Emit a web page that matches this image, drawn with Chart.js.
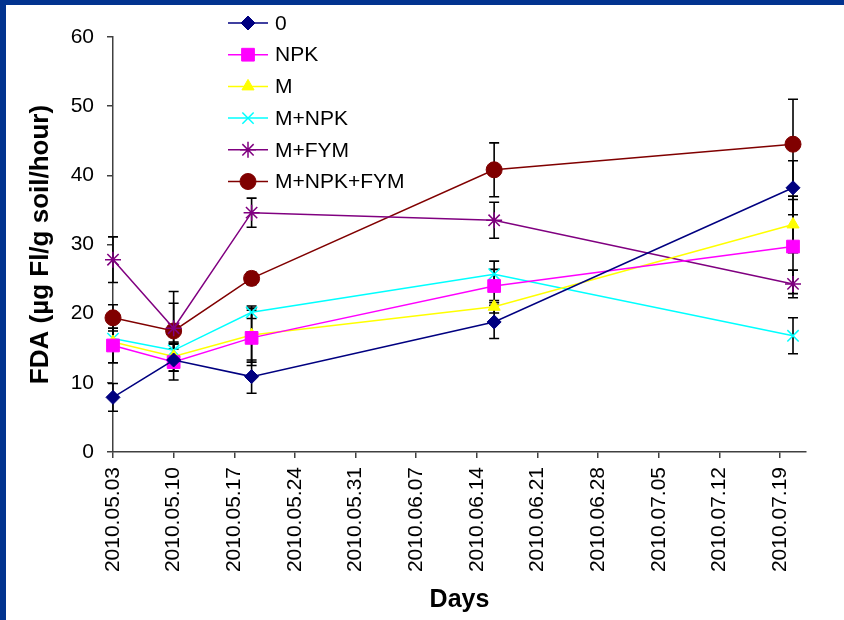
<!DOCTYPE html>
<html>
<head>
<meta charset="utf-8">
<script src="https://cdn.jsdelivr.net/npm/chart.js@4.4.1/dist/chart.umd.min.js"></script>
<style>
  body { margin: 0; background: #fff; }
  #wrap { width: 844px; height: 620px; }
</style>
</head>
<body>
<div id="wrap"><canvas id="myChart" width="844" height="620"></canvas></div>
<script>
// sampling days, counted from 2010.05.03
const days = [0, 7, 16, 44, 78.5];

const seriesNames = ['0', 'NPK', 'M', 'M+NPK', 'M+FYM', 'M+NPK+FYM'];
const control = [7.9, 13.3, 10.9, 18.8, 38.2];
const npk = [15.4, 13.0, 16.5, 24.0, 29.7];
const manure = [15.9, 13.8, 16.9, 21.0, 32.9];
const manureNpk = [16.4, 14.7, 20.2, 25.7, 16.8];
const manureFym = [27.8, 17.9, 34.6, 33.5, 24.3];
const manureNpkFym = [19.4, 17.5, 25.1, 40.8, 44.5];

// error bar half-lengths
const controlErr = [2.0, 1.6, 2.4, 2.4, 3.9];
const npkErr = [2.5, 2.6, 4.0, 2.4, 6.8];
const manureErr = [3.0, 2.1, 3.9, 0.9, 4.1];
const manureNpkErr = [1.5, 1.0, 0.9, 1.9, 2.6];
const manureFymErr = [3.3, 5.3, 2.1, 2.6, 2.0];
const manureNpkFymErr = [1.9, 4.0, 0.9, 3.9, 6.5];

const yTicks = [0, 10, 20, 30, 40, 50, 60];

const FONT = "'Liberation Sans', Arial, sans-serif";

const colors = ['#000080', '#FF00FF', '#FFFF00', '#00FFFF', '#800080', '#800000'];
const styles = ['rectRot', 'rect', 'triangle', 'crossRot', 'star', 'circle'];
const radii = [7, 9, 7, 8, 8, 8];
const values = [control, npk, manure, manureNpk, manureFym, manureNpkFym];
const errors = [controlErr, npkErr, manureErr, manureNpkErr, manureFymErr, manureNpkFymErr];

function dayLabel(v) {
  const d = new Date(Date.UTC(2010, 4, 3) + v * 86400000);
  const mm = String(d.getUTCMonth() + 1).padStart(2, '0');
  const dd = String(d.getUTCDate()).padStart(2, '0');
  return d.getUTCFullYear() + '.' + mm + '.' + dd;
}

const datasets = seriesNames.map((name, i) => ({
  label: name,
  data: values[i].map((v, j) => ({ x: days[j], y: v })),
  errors: errors[i],
  borderColor: colors[i],
  backgroundColor: colors[i],
  borderWidth: 1.5,
  pointStyle: styles[i],
  pointRadius: radii[i],
  pointBorderWidth: (styles[i] === 'crossRot' || styles[i] === 'star') ? 1.5 : 1,
  pointBorderColor: colors[i],
  pointBackgroundColor: colors[i],
  tension: 0,
  fill: false,
  clip: false
}));

const framePlugin = {
  id: 'frame',
  beforeDraw(chart) {
    const ctx = chart.ctx;
    ctx.save();
    ctx.fillStyle = '#ffffff';
    ctx.fillRect(0, 0, chart.width, chart.height);
    ctx.fillStyle = '#02338F';
    ctx.fillRect(0, 0, chart.width, 5);
    ctx.fillRect(0, 0, 6, chart.height);
    ctx.restore();
  }
};

const errorBarPlugin = {
  id: 'errorBars',
  beforeDatasetsDraw(chart) {
    const ctx = chart.ctx;
    const xs = chart.scales.x;
    const ys = chart.scales.y;
    ctx.save();
    ctx.strokeStyle = '#000000';
    ctx.lineWidth = 1.6;
    chart.data.datasets.forEach(ds => {
      ds.data.forEach((p, j) => {
        const e = ds.errors[j];
        const px = xs.getPixelForValue(p.x);
        const top = ys.getPixelForValue(p.y + e);
        const bot = ys.getPixelForValue(p.y - e);
        ctx.beginPath();
        ctx.moveTo(px, top);
        ctx.lineTo(px, bot);
        ctx.moveTo(px - 5, top);
        ctx.lineTo(px + 5, top);
        ctx.moveTo(px - 5, bot);
        ctx.lineTo(px + 5, bot);
        ctx.stroke();
      });
    });
    ctx.restore();
  }
};

const legendPlugin = {
  id: 'customLegend',
  afterDraw(chart) {
    const ctx = chart.ctx;
    const x0 = 228, x1 = 268, tx = 275;
    ctx.save();
    ctx.font = '21px ' + FONT;
    ctx.textBaseline = 'middle';
    ctx.textAlign = 'left';
    chart.data.datasets.forEach((ds, i) => {
      const y = 23 + i * 31.7;
      ctx.strokeStyle = ds.borderColor;
      ctx.lineWidth = ds.borderWidth;
      ctx.beginPath();
      ctx.moveTo(x0, y);
      ctx.lineTo(x1, y);
      ctx.stroke();
      ctx.fillStyle = ds.pointBackgroundColor;
      ctx.strokeStyle = ds.pointBorderColor;
      ctx.lineWidth = ds.pointBorderWidth;
      Chart.helpers.drawPoint(ctx, {
        pointStyle: ds.pointStyle,
        radius: ds.pointRadius,
        rotation: 0,
        borderWidth: ds.pointBorderWidth
      }, (x0 + x1) / 2, y);
      ctx.fillStyle = '#000000';
      ctx.fillText(ds.label, tx, y + 1);
    });
    ctx.restore();
  }
};

const myChart = new Chart(document.getElementById('myChart'), {
  type: 'line',
  data: { datasets: datasets },
  options: {
    responsive: false,
    animation: false,
    layout: { padding: { top: 37, right: 38, left: 0, bottom: 0 } },
    plugins: {
      legend: { display: false },
      tooltip: { enabled: false }
    },
    scales: {
      x: {
        type: 'linear',
        min: 0,
        max: 80,
        afterFit(scale) { scale.height = 168; },
        afterBuildTicks(scale) {
          const t = [];
          for (let v = 0; v <= 77; v += 7) t.push({ value: v });
          scale.ticks = t;
        },
        ticks: {
          stepSize: 7,
          minRotation: 90,
          maxRotation: 90,
          autoSkip: false,
          padding: 9,
          color: '#000000',
          font: { family: FONT, size: 21 },
          callback: v => dayLabel(v)
        },
        grid: { display: true, drawOnChartArea: false, drawTicks: true, tickLength: 6, color: '#404040', lineWidth: 1.5 },
        border: { display: true, color: '#404040', width: 1.5 },
        title: {
          display: true,
          text: 'Days',
          color: '#000000',
          font: { family: FONT, size: 25, weight: 'bold' },
          padding: { top: 0, bottom: 5 }
        }
      },
      y: {
        min: 0,
        max: 60,
        afterFit(scale) { scale.width = 113; },
        afterBuildTicks(scale) { scale.ticks = yTicks.map(v => ({ value: v })); },
        ticks: {
          stepSize: 10,
          padding: 13,
          color: '#000000',
          font: { family: FONT, size: 21 }
        },
        grid: { display: true, drawOnChartArea: false, drawTicks: true, tickLength: 6, color: '#404040', lineWidth: 1.5 },
        border: { display: true, color: '#404040', width: 1.5 },
        title: {
          display: true,
          text: 'FDA (µg Fl/g soil/hour)',
          color: '#000000',
          font: { family: FONT, size: 26, weight: 'bold' },
          padding: { top: 25, bottom: 0 }
        }
      }
    }
  },
  plugins: [framePlugin, errorBarPlugin, legendPlugin]
});
</script>
</body>
</html>
